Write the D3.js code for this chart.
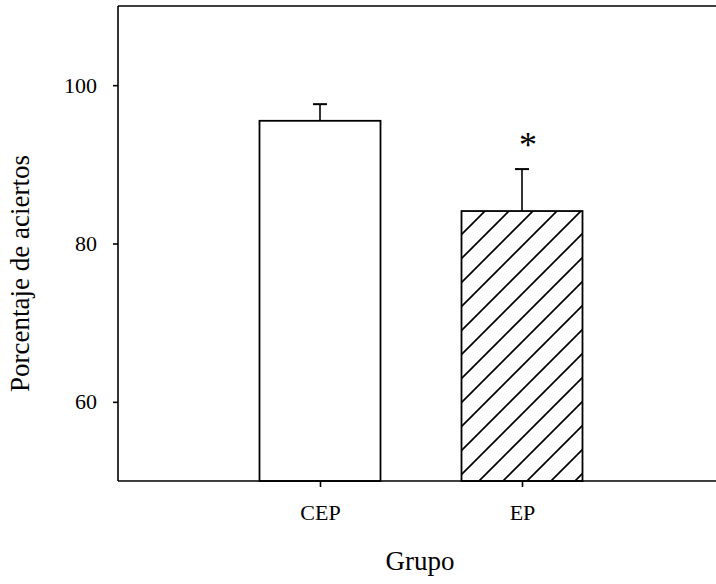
<!DOCTYPE html>
<html>
<head>
<meta charset="utf-8">
<script src="https://cdn.jsdelivr.net/npm/d3@7"></script>
<style>
  body { margin: 0; background: #fff; }
  svg { display: block; font-family: "Liberation Serif", "Times New Roman", serif; }
</style>
</head>
<body>
<svg width="716" height="584"></svg>
<script>
const groups = ["CEP", "EP"];
const means = [95.5, 84.1];
const errTop = [97.6, 89.4];
const signif = ["", "*"];
const yTicks = [60, 80, 100];

const svg = d3.select("svg");
const plotLeft = 118, plotTop = 6, plotBottom = 481, plotRight = 724;

// x is a linear position 0..3, groups sit at 1 and 2
const x = d3.scaleLinear().domain([0, 3]).range([plotLeft, plotRight]);
const y = d3.scaleLinear().domain([50, 110]).range([plotBottom, plotTop]);
const barW = 121;

// hatch pattern for the second bar
const defs = svg.append("defs");
const pat = defs.append("pattern")
  .attr("id", "hatch")
  .attr("patternUnits", "userSpaceOnUse")
  .attr("width", 24).attr("height", 24);
pat.append("rect").attr("width", 24).attr("height", 24).attr("fill", "#fff");
pat.append("path")
  .attr("d", "M-6,6 L6,-6 M0,24 L24,0 M18,30 L30,18")
  .attr("stroke", "#000").attr("stroke-width", 1.7);

// top frame line
svg.append("line").attr("x1", plotLeft).attr("x2", plotRight).attr("y1", plotTop).attr("y2", plotTop)
  .attr("stroke", "#000").attr("stroke-width", 1.6);

const bars = svg.append("g");
groups.forEach((g, i) => {
  const cx = x(i + 1);
  bars.append("line")
    .attr("x1", cx).attr("x2", cx)
    .attr("y1", y(means[i])).attr("y2", y(errTop[i]))
    .attr("stroke", "#000").attr("stroke-width", 1.6);
  bars.append("line")
    .attr("x1", cx - 7).attr("x2", cx + 7)
    .attr("y1", y(errTop[i])).attr("y2", y(errTop[i]))
    .attr("stroke", "#000").attr("stroke-width", 2);
  bars.append("rect")
    .attr("x", cx - barW / 2).attr("width", barW)
    .attr("y", y(means[i])).attr("height", y(50) - y(means[i]))
    .attr("fill", i === 0 ? "#fff" : "url(#hatch)")
    .attr("stroke", "#000").attr("stroke-width", 1.8);
  if (signif[i]) {
    bars.append("text")
      .attr("x", cx + 6).attr("y", y(errTop[i]) - 12)
      .attr("text-anchor", "middle")
      .attr("font-size", 36)
      .text(signif[i]);
  }
});

const yAxis = svg.append("g")
  .attr("transform", `translate(${plotLeft},0)`)
  .call(d3.axisLeft(y).tickValues(yTicks).tickSize(5).tickPadding(16));
yAxis.select(".domain").attr("stroke-width", 1.6).attr("d", `M0,${plotTop}V${plotBottom}`);
yAxis.selectAll("line").attr("stroke-width", 1.6);
yAxis.selectAll("text").attr("font-size", 22).attr("font-family", "Liberation Serif");

const xAxis = svg.append("g")
  .attr("transform", `translate(0,${plotBottom})`)
  .call(d3.axisBottom(x).tickValues([1, 2]).tickFormat((d) => groups[d - 1]).tickSize(6).tickPadding(17));
xAxis.select(".domain").attr("stroke-width", 1.6).attr("d", `M${plotLeft},0H${plotRight}`);
xAxis.selectAll("line").attr("stroke-width", 1.6);
xAxis.selectAll("text").attr("font-size", 22).attr("font-family", "Liberation Serif");

svg.append("text")
  .attr("x", 420).attr("y", 570)
  .attr("text-anchor", "middle")
  .attr("font-size", 27)
  .text("Grupo");

svg.append("text")
  .attr("transform", `translate(29,${(plotTop + plotBottom) / 2 + 30}) rotate(-90)`)
  .attr("text-anchor", "middle")
  .attr("font-size", 27)
  .text("Porcentaje de aciertos");
</script>
</body>
</html>
